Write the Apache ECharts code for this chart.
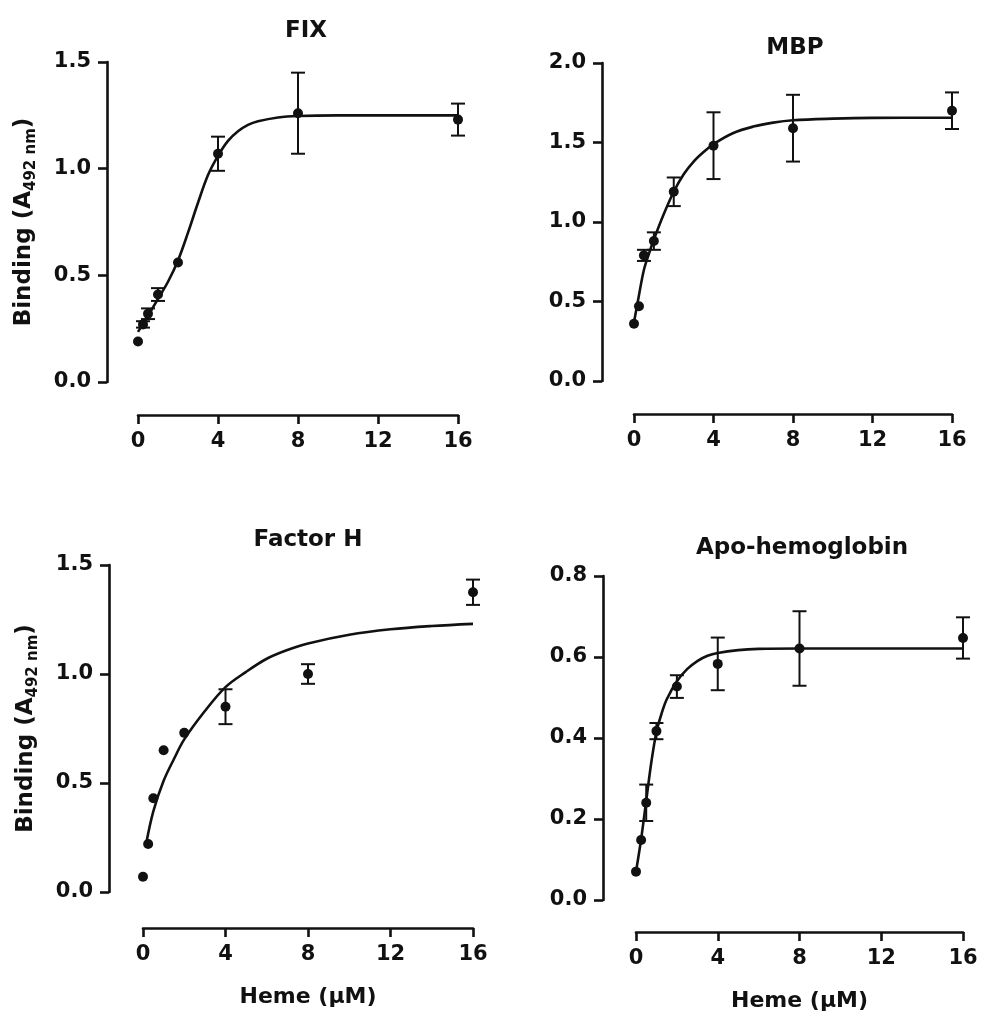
<!DOCTYPE html>
<html>
<head>
<meta charset="utf-8">
<script src="https://cdn.jsdelivr.net/npm/echarts@6/dist/echarts.min.js"></script>
<style>
html,body{margin:0;padding:0;background:#fff;}
#c{width:984px;height:1021px;}
</style>
</head>
<body>
<div id="c"></div>
<script>
// ---- data ----
const hemeX = [0, 0.25, 0.5, 1, 2, 4, 8, 16];
const xTicks = [0, 4, 8, 12, 16];

const fixY   = [0.19, 0.27, 0.32, 0.41, 0.56, 1.07, 1.26, 1.23];
const fixErr = [0, 0.015, 0.025, 0.03, 0, 0.08, 0.19, 0.075];
const fixCurve = [[0,0.235],[0.5,0.31],[1,0.39],[1.5,0.47],[2,0.57],[2.5,0.70],[3,0.84],[3.5,0.97],[4,1.06],[4.5,1.13],[5,1.175],[5.5,1.205],[6,1.222],[7,1.24],[8,1.247],[10,1.25],[16,1.25]];

const mbpY   = [0.36, 0.47, 0.79, 0.88, 1.19, 1.48, 1.59, 1.70];
const mbpErr = [0, 0, 0.035, 0.055, 0.09, 0.21, 0.21, 0.115];
const mbpCurve = [[0,0.37],[0.25,0.54],[0.5,0.70],[0.75,0.80],[1,0.89],[1.5,1.05],[2,1.19],[2.5,1.30],[3,1.38],[3.5,1.44],[4,1.49],[5,1.56],[6,1.60],[7,1.625],[8,1.64],[10,1.65],[12,1.655],[16,1.656]];

const fhY   = [0.07, 0.22, 0.43, 0.65, 0.73, 0.85, 1.00, 1.375];
const fhErr = [0, 0, 0, 0, 0, 0.08, 0.045, 0.058];
const fhCurve = [[0.15,0.22],[0.5,0.37],[1,0.51],[1.5,0.61],[2,0.70],[3,0.83],[4,0.94],[5,1.01],[6,1.07],[7,1.11],[8,1.14],[10,1.18],[12,1.205],[14,1.22],[16,1.23]];

const apoY   = [0.07, 0.148, 0.24, 0.417, 0.527, 0.583, 0.621, 0.647];
const apoErr = [0, 0, 0.045, 0.02, 0.028, 0.065, 0.092, 0.051];
const apoCurve = [[0,0.07],[0.25,0.15],[0.5,0.245],[0.75,0.34],[1,0.415],[1.25,0.46],[1.5,0.495],[2,0.54],[2.5,0.57],[3,0.59],[3.5,0.603],[4,0.61],[5,0.617],[6,0.62],[8,0.621],[16,0.621]];

const titles = ['FIX', 'MBP', 'Factor H', 'Apo-hemoglobin'];
const yMax = [1.5, 2.0, 1.5, 0.8];
const yStep = [0.5, 0.5, 0.5, 0.2];
const yLabel = 'Binding (A';
const ySub = '492 nm';
const xLabel = 'Heme (μM)';

// ---- layout ----
const FONT = 'DejaVu Sans';
const INK = '#111';
const grids = [
  {left:138, top:62,  width:320, height:320},
  {left:634, top:63,  width:318, height:318},
  {left:143, top:565, width:330, height:327},
  {left:636, top:576, width:327, height:324}
];
const yOff = [31, 32, 34, 33];
const xOff = [33, 33, 36, 32];
const titlePos = [[301,15],[790,32],[303,524],[797,532]];

const panels = [
  {y:fixY, e:fixErr, c:fixCurve},
  {y:mbpY, e:mbpErr, c:mbpCurve},
  {y:fhY,  e:fhErr,  c:fhCurve},
  {y:apoY, e:apoErr, c:apoCurve}
];

function errRender(params, api){
  const x = api.value(0), y = api.value(1), e = api.value(2);
  if (!e) return {type:'group', children:[]};
  const t = api.coord([x, y + e]);
  const b = api.coord([x, y - e]);
  const w = 7;
  const st = {stroke: INK, lineWidth: 2};
  return {type:'group', children:[
    {type:'line', shape:{x1:t[0], y1:t[1], x2:b[0], y2:b[1]}, style:st},
    {type:'line', shape:{x1:t[0]-w, y1:t[1], x2:t[0]+w, y2:t[1]}, style:st},
    {type:'line', shape:{x1:b[0]-w, y1:b[1], x2:b[0]+w, y2:b[1]}, style:st}
  ]};
}

const axisLineStyle = {onZero:false, lineStyle:{color:INK, width:2.6}};
const axisTickStyle = {show:true, inside:false, length:9, lineStyle:{color:INK, width:2.6}};

const xAxes = [], yAxes = [], series = [], title = [];
panels.forEach((p, i) => {
  title.push({
    text: titles[i], left: titlePos[i][0], top: titlePos[i][1], textAlign: 'center',
    textStyle: {fontFamily: FONT, fontWeight: 'bold', fontSize: 23, color: INK}
  });
  const bottomRow = i >= 2, leftCol = i % 2 === 0;
  xAxes.push({
    type:'value', gridIndex:i, min:0, max:16, interval:4, offset:xOff[i], position:'bottom',
    axisLine:axisLineStyle, axisTick:axisTickStyle, splitLine:{show:false},
    axisLabel:{fontFamily:FONT, fontWeight:'bold', fontSize:21, color:INK, margin:16,
      formatter: v => xTicks.includes(v) ? String(v) : ''},
    name: bottomRow ? xLabel : '', nameLocation:'middle', nameGap:58,
    nameTextStyle:{fontFamily:FONT, fontWeight:'bold', fontSize:22, color:INK}
  });
  yAxes.push({
    type:'value', gridIndex:i, min:0, max:yMax[i], interval:yStep[i], offset:yOff[i], position:'left',
    axisLine:axisLineStyle, axisTick:axisTickStyle, splitLine:{show:false},
    axisLabel:{fontFamily:FONT, fontWeight:'bold', fontSize:21, color:INK, margin:16,
      formatter: v => v.toFixed(1)},
    name: leftCol ? '{a|' + yLabel + '}{b|' + ySub + '}{a|)}' : '',
    nameLocation:'middle', nameGap:68,
    nameTextStyle:{rich:{
      a:{fontFamily:FONT, fontWeight:'bold', fontSize:23, color:INK, lineHeight:30, verticalAlign:'middle'},
      b:{fontFamily:FONT, fontWeight:'bold', fontSize:15, color:INK, lineHeight:14, verticalAlign:'bottom'}
    }}
  });
  series.push({
    type:'line', xAxisIndex:i, yAxisIndex:i, data:p.c, smooth:0.35,
    showSymbol:false, symbol:'none', lineStyle:{color:INK, width:2.6}, silent:true, clip:false, z:2
  });
  series.push({
    type:'custom', xAxisIndex:i, yAxisIndex:i, renderItem:errRender,
    data: hemeX.map((x, k) => [x, p.y[k], p.e[k]]), z:3, silent:true
  });
  series.push({
    type:'scatter', xAxisIndex:i, yAxisIndex:i, symbol:'circle', symbolSize:10,
    itemStyle:{color:INK, opacity:1}, data: hemeX.map((x, k) => [x, p.y[k]]), z:4, silent:true
  });
});

const chart = echarts.init(document.getElementById('c'), null, {renderer:'canvas'});
chart.setOption({
  animation:false,
  backgroundColor:'#fff',
  title: title,
  grid: grids.map(g => Object.assign({containLabel:false}, g)),
  xAxis: xAxes,
  yAxis: yAxes,
  series: series
});
</script>
</body>
</html>
